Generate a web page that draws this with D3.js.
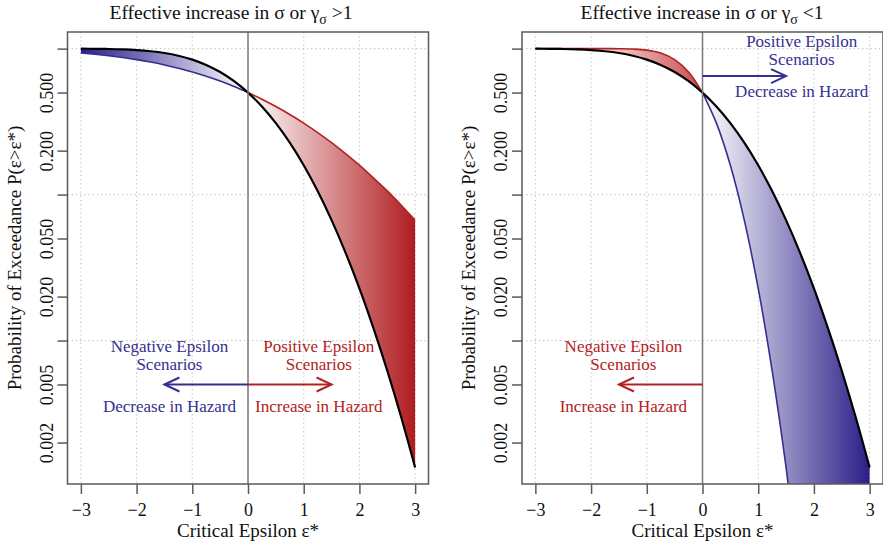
<!DOCTYPE html>
<html>
<head>
<meta charset="utf-8">
<script src="https://cdn.jsdelivr.net/npm/d3@7"></script>
<style>
  body { margin: 0; background: #fff; }
  text { font-family: "Liberation Serif", "Times New Roman", serif; }
</style>
</head>
<body>
<div id="chart"></div>
<script>
// Critical epsilon values and exceedance probabilities
const xs = [-3, -2.75, -2.5, -2.25, -2, -1.75, -1.5, -1.25, -1, -0.75, -0.5, -0.25, 0,
            0.25, 0.5, 0.75, 1, 1.25, 1.5, 1.75, 2, 2.25, 2.5, 2.75, 3];
// reference curve (black)
const pBase = [0.99865, 0.99702, 0.99379, 0.98778, 0.97725, 0.95994, 0.93319, 0.89435, 0.84134,
               0.77337, 0.69146, 0.59871, 0.5, 0.40129, 0.30854, 0.22663, 0.15866, 0.10565,
               0.06681, 0.04006, 0.02275, 0.01222, 0.00621, 0.00298, 0.00135];
// gamma_sigma > 1 (wider)
const pWide = [0.933, 0.915, 0.894, 0.870, 0.841, 0.809, 0.773, 0.734, 0.691, 0.646, 0.599, 0.550,
               0.5, 0.450, 0.401, 0.354, 0.309, 0.266, 0.227, 0.191, 0.159, 0.130, 0.106, 0.0846, 0.0668];
// gamma_sigma < 1 (narrower), runs off the bottom of the plot past 1.5
const pNarrow = [1, 1, 1, 0.999997, 0.99997, 0.99977, 0.99865, 0.99379, 0.97725, 0.93319, 0.84134,
                 0.69146, 0.5, 0.30854, 0.15866, 0.06681, 0.02275, 0.00621, 0.00135, 0.000233,
                 0.0000317, 0.0000034, 0.00000029, 0.00000002, 0.000000001];

const xTicks = [-3, -2, -1, 0, 1, 2, 3];
const yTicks = [1, 0.5, 0.2, 0.1, 0.05, 0.02, 0.01, 0.005, 0.002];
const yTickLabels = ["", "0.500", "0.200", "", "0.050", "0.020", "", "0.005", "0.002"];
const yGrid = [1, 0.1, 0.01];

const BLUE = "#34308f", RED = "#b22222";
const DARKBLUE = "#2a1e88", DARKRED = "#b01c20";

const width = 883, height = 546;
const plotTop = 32, plotBottom = 484, boxW = 361;

const panels = [
  { left: 67.5, titleX: 231, sign: ">1", alt: pWide, negColor: BLUE, posColor: RED,
    negGrad: [DARKBLUE, "#ffffff"], posGrad: ["#ffffff", DARKRED], negFrom: -3, posTo: 3,
    notes: [
      { x: -1.41, color: BLUE, lines: [["Negative Epsilon", 0.00918], ["Scenarios", 0.00691], ["Decrease in Hazard", 0.00356]], arrowY: 0.005, tip: -1.5 },
      { x: 1.27, color: RED, lines: [["Positive Epsilon", 0.00918], ["Scenarios", 0.00691], ["Increase in Hazard", 0.00356]], arrowY: 0.005, tip: 1.5 }
    ] },
  { left: 522, titleX: 702, sign: "<1", alt: pNarrow, negColor: RED, posColor: BLUE,
    negGrad: ["#ffffff", "#c94a4a"], posGrad: ["#ffffff", DARKBLUE], negFrom: -2.2, posTo: 3,
    notes: [
      { x: 1.78, color: BLUE, lines: [["Positive Epsilon", 1.128], ["Scenarios", 0.849], ["Decrease in Hazard", 0.51]], arrowY: 0.649, tip: 1.5 },
      { x: -1.42, color: RED, lines: [["Negative Epsilon", 0.00918], ["Scenarios", 0.00691], ["Increase in Hazard", 0.00356]], arrowY: 0.005, tip: -1.5 }
    ] }
];

const svg = d3.select("#chart").append("svg")
    .attr("width", width)
    .attr("height", height)
    .style("font-family", '"Liberation Serif", serif');

const defs = svg.append("defs");

const y = d3.scaleLog()
    .domain([0.00104, 1.30])
    .range([plotBottom, plotTop]);

panels.forEach((p, i) => {
  const x = d3.scaleLinear()
      .domain([-3.24, 3.24])
      .range([p.left, p.left + boxW]);

  const rows = xs.map((v, j) => ({ x: v, base: pBase[j], alt: p.alt[j] }));
  const neg = rows.filter(d => d.x <= 0);
  const pos = rows.filter(d => d.x >= 0);

  defs.append("clipPath").attr("id", "clip" + i)
    .append("rect")
      .attr("x", p.left).attr("y", plotTop)
      .attr("width", boxW).attr("height", plotBottom - plotTop);

  // gradients for the two shaded regions
  const grad = (id, from, to, cols) => {
    const g = defs.append("linearGradient").attr("id", id)
        .attr("gradientUnits", "userSpaceOnUse")
        .attr("x1", x(from)).attr("x2", x(to))
        .attr("y1", 0).attr("y2", 0);
    g.append("stop").attr("offset", 0).attr("stop-color", cols[0]);
    g.append("stop").attr("offset", 1).attr("stop-color", cols[1]);
  };
  grad("neg" + i, p.negFrom, 0, p.negGrad);
  grad("pos" + i, 0, p.posTo, p.posGrad);

  const g = svg.append("g");

  // grid
  g.append("g").selectAll("line")
    .data(xTicks)
    .join("line")
      .attr("x1", d => x(d)).attr("x2", d => x(d))
      .attr("y1", plotTop).attr("y2", plotBottom)
      .attr("stroke", "#c4c4c4")
      .attr("stroke-dasharray", "1.2,3")
      .attr("stroke-width", 1.2);
  g.append("g").selectAll("line")
    .data(yGrid)
    .join("line")
      .attr("x1", p.left).attr("x2", p.left + boxW)
      .attr("y1", d => y(d)).attr("y2", d => y(d))
      .attr("stroke", "#c4c4c4")
      .attr("stroke-dasharray", "1.2,3")
      .attr("stroke-width", 1.2);

  const plot = g.append("g").attr("clip-path", `url(#clip${i})`);

  const area = d3.area()
      .x(d => x(d.x))
      .y0(d => y(d.base))
      .y1(d => y(d.alt))
      .curve(d3.curveCatmullRom);

  plot.append("path").datum(neg).attr("d", area).attr("fill", `url(#neg${i})`);
  plot.append("path").datum(pos).attr("d", area).attr("fill", `url(#pos${i})`);

  // zero line
  g.append("line")
      .attr("x1", x(0)).attr("x2", x(0))
      .attr("y1", plotTop).attr("y2", plotBottom)
      .attr("stroke", "#7a7a7a")
      .attr("stroke-width", 1.5);

  const line = (key) => d3.line()
      .x(d => x(d.x))
      .y(d => y(d[key]))
      .curve(d3.curveCatmullRom);

  plot.append("path").datum(neg).attr("d", line("alt"))
      .attr("fill", "none").attr("stroke", p.negColor).attr("stroke-width", 1.6);
  plot.append("path").datum(pos).attr("d", line("alt"))
      .attr("fill", "none").attr("stroke", p.posColor).attr("stroke-width", 1.6);
  plot.append("path").datum(rows).attr("d", line("base"))
      .attr("fill", "none").attr("stroke", "#000").attr("stroke-width", 2.2);

  // annotations and arrows
  p.notes.forEach(n => {
    n.lines.forEach(([t, v]) => {
      g.append("text")
          .attr("x", x(n.x)).attr("y", y(v))
          .attr("dy", "0.35em")
          .attr("text-anchor", "middle")
          .attr("fill", n.color)
          .style("font-size", "17px")
          .text(t);
    });
    const ay = y(n.arrowY), tx = x(n.tip), dir = n.tip < 0 ? 1 : -1;
    g.append("line")
        .attr("x1", x(0)).attr("x2", tx)
        .attr("y1", ay).attr("y2", ay)
        .attr("stroke", n.color).attr("stroke-width", 2);
    g.append("path")
        .attr("d", `M${tx + dir * 15},${ay - 7}L${tx},${ay}L${tx + dir * 15},${ay + 7}`)
        .attr("fill", "none").attr("stroke", n.color).attr("stroke-width", 2);
  });

  // box
  g.append("rect")
      .attr("x", p.left).attr("y", plotTop)
      .attr("width", boxW).attr("height", plotBottom - plotTop)
      .attr("fill", "none").attr("stroke", "#5a5a5a").attr("stroke-width", 1.5);

  // x axis
  const xAxis = g.append("g")
      .attr("transform", `translate(0,${plotBottom})`)
      .call(d3.axisBottom(x).tickValues(xTicks).tickSize(10).tickPadding(9)
        .tickFormat(d => d < 0 ? "\u2212" + Math.abs(d) : d));
  xAxis.attr("font-family", null);
  xAxis.select(".domain").remove();
  xAxis.selectAll("line").attr("stroke", "#5a5a5a").attr("stroke-width", 1.5);
  xAxis.selectAll("text").attr("fill", "#111").style("font-size", "18px");

  // y axis, labels rotated as in base graphics
  const yAxis = g.append("g")
      .attr("transform", `translate(${p.left},0)`)
      .call(d3.axisLeft(y).tickValues(yTicks).tickSize(10)
        .tickFormat((d, k) => yTickLabels[k]));
  yAxis.attr("font-family", null);
  yAxis.select(".domain").remove();
  yAxis.selectAll("line").attr("stroke", "#5a5a5a").attr("stroke-width", 1.5);
  yAxis.selectAll("text")
      .attr("x", 0).attr("dy", 0)
      .attr("transform", "translate(-15,0) rotate(-90)")
      .attr("text-anchor", "middle")
      .attr("fill", "#111")
      .style("font-size", "18px");

  // titles
  const title = g.append("text")
      .attr("x", p.titleX).attr("y", 19)
      .attr("text-anchor", "middle")
      .style("font-size", "19.5px")
      .attr("fill", "#111");
  title.append("tspan").text("Effective increase in \u03c3 or \u03b3");
  title.append("tspan").attr("dy", 5).style("font-size", "14px").text("\u03c3");
  title.append("tspan").attr("dy", -5).text(" " + p.sign);

  g.append("text")
      .attr("x", (p.left + p.left + boxW) / 2).attr("y", 537)
      .attr("text-anchor", "middle")
      .style("font-size", "19px")
      .attr("fill", "#111")
      .text("Critical Epsilon \u03b5*");

  g.append("text")
      .attr("transform", `translate(${p.left - 47},${(plotTop + plotBottom) / 2}) rotate(-90)`)
      .attr("text-anchor", "middle")
      .style("font-size", "19px")
      .attr("fill", "#111")
      .text("Probability of Exceedance P(\u03b5>\u03b5*)");
});
</script>
</body>
</html>
